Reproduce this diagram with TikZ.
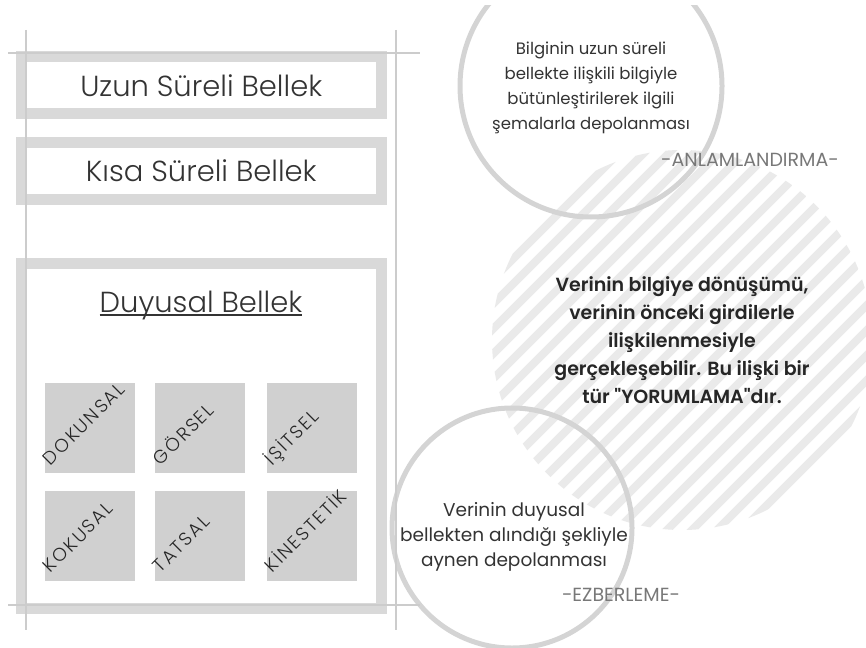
\documentclass[tikz,border=0pt]{standalone}
\usepackage{fontspec}
\setmainfont{Poppins}
\newfontfamily\lightfont{Poppins Light}
\newfontfamily\semifont{Poppins SemiBold}
\usetikzlibrary{positioning,calc}
\definecolor{ringgray}{RGB}{212,212,212}
\definecolor{boxgray}{RGB}{217,217,217}
\definecolor{tilegray}{RGB}{208,208,208}
\definecolor{stripegray}{RGB}{234,234,234}
\definecolor{guidegray}{RGB}{204,204,204}
\definecolor{inkgray}{RGB}{51,51,51}
\definecolor{taggray}{RGB}{120,120,120}

\begin{document}
\begin{tikzpicture}[x=1pt,y=-1pt,
  guide/.style={guidegray,line width=2pt},
  membox/.style={draw=boxgray,line width=11pt,minimum width=359.5pt,minimum height=56.5pt,
    font=\lightfont\fontsize{29}{32}\selectfont,text=inkgray},
  tile/.style={fill=tilegray,minimum size=90pt,inner sep=0pt},
  tilelabel/.style={rotate=45,anchor=base west,inner sep=0pt,
    font=\lightfont\fontsize{18.5}{21}\selectfont\addfontfeature{LetterSpace=10},text=black!85},
  ring/.style={circle,draw=ringgray,line width=5pt,inner sep=0pt},
  body/.style={align=center,font=\fontsize{16.5}{25}\selectfont,text=inkgray},
  tag/.style={font=\fontsize{19}{21}\selectfont,text=taggray},
  stripe/.style={stripegray,line width=8pt}]
  \useasboundingbox (0,0) rectangle (866,647);

  \node[circle,minimum size=380pt,inner sep=0pt,align=center,
        font=\semifont\fontsize{19}{28}\selectfont,text=black!85,
        path picture={\foreach \k in {-12,...,12}
          \draw[stripe] ($(path picture bounding box.center)+(\k*25-250,250)$) -- ++(500,-500);}]
        (yorum) at (682,340) {Verinin bilgiye dönüşümü,\\verinin önceki girdilerle\\ilişkilenmesiyle\\gerçekleşebilir. Bu ilişki bir\\tür "YORUMLAMA"dır.};

  \begin{scope}
    \clip (0,6) rectangle (866,647);
    \node[ring,minimum size=262pt] (anlam) at (591,86) {};
    \node[ring,minimum size=240pt] (ezber) at (512,528) {};
  \end{scope}
  \node[body] (anlamtext) at (591,88)
        {Bilginin uzun süreli\\bellekte ilişkili bilgiyle\\bütünleştirilerek ilgili\\şemalarla depolanması};
  \node[body,font=\fontsize{18.5}{25}\selectfont] (ezbertext) at (514,537) {Verinin duyusal\\bellekten alındığı şekliyle\\aynen depolanması};
  \node[tag] (anlamtag) at (750,160) {-ANLAMLANDIRMA-};
  \node[tag] (ezbertag) at (621,595) {-EZBERLEME-};

  \node[membox] (uzun) at (201.25,85.25) {Uzun Süreli Bellek};
  \node[membox] (kisa) at (201.25,171) {Kısa Süreli Bellek};
  \node[membox,minimum height=345pt] (duyusal) at (201.25,436) {};
  \node[inner sep=0pt,font=\lightfont\fontsize{29}{32}\selectfont,text=inkgray] (duyusalbaslik) at (201,305) {Duyusal Bellek};
  \draw[inkgray,line width=1.5pt] ([yshift=-3]duyusalbaslik.base west) -- ([yshift=-3]duyusalbaslik.base east);

  \node[tile] (dokunsal) at (90,428) {};
  \node[tile] (gorsel) at (200,428) {};
  \node[tile] (isitsel) at (311.5,428) {};
  \node[tile] (kokusal) at (90,535.5) {};
  \node[tile] (tatsal) at (200,535.5) {};
  \node[tile] (kinestetik) at (311.5,535.5) {};
  \node[tilelabel] at ([shift={(6,-7)}]dokunsal.south west) {DOKUNSAL};
  \node[tilelabel] at ([shift={(6,-7)}]gorsel.south west) {GÖRSEL};
  \node[tilelabel] at ([shift={(6,-7)}]isitsel.south west) {İŞİTSEL};
  \node[tilelabel] at ([shift={(6,-7)}]kokusal.south west) {KOKUSAL};
  \node[tilelabel] at ([shift={(6,-7)}]tatsal.south west) {TATSAL};
  \node[tilelabel] at ([shift={(6,-7)}]kinestetik.south west) {KİNESTETİK};

  \draw[guide] (26,30) -- (26,630);
  \draw[guide] (396,30) -- (396,630);
  \draw[guide] (8,53) -- (420,53);
  \draw[guide] (8,605) -- (420,605);
\end{tikzpicture}
\end{document}
